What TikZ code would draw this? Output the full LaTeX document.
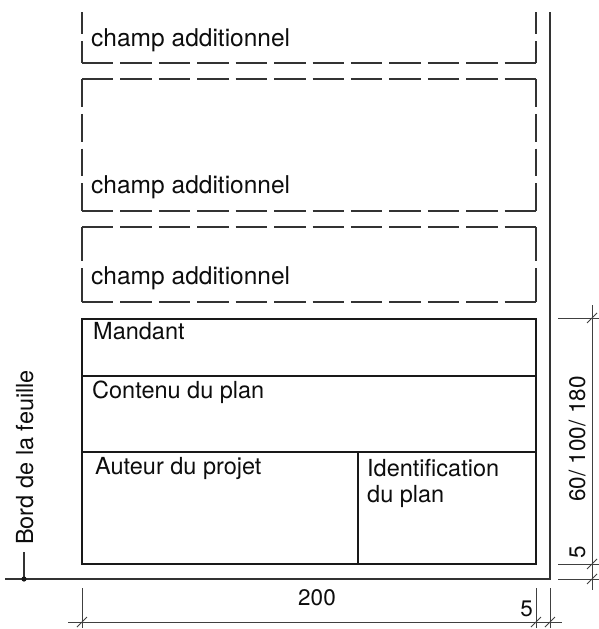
\documentclass[tikz,border=0pt]{standalone}
\usepackage{fontspec}
\setmainfont{TeX Gyre Heros}

% one side of a dashed field, with whole dashes at both corners
\newcommand\dashedside[4]{%
  \pgfmathsetmacro\sidelen{veclen(#3-#1,#4-#2)}%
  \pgfmathsetmacro\sidecount{max(1,round((\sidelen+7)/37))}%
  \pgfmathsetmacro\sidedash{(\sidelen-(\sidecount-1)*7)/\sidecount}%
  \draw[dsh, dash pattern=on \sidedash pt off 7pt] (#1,#2) -- (#3,#4);}

% oblique tick mark of a dimension line
\newcommand\archtick[2]{%
  \draw[dimline, line width=1pt] (#1-5,#2+5) -- (#1+5,#2-5);}

\begin{document}
\begin{tikzpicture}[x=1pt,y=-1pt,
  lbl/.style={font=\fontsize{23.5}{28}\selectfont, inner sep=0pt, text=black!95},
  fieldlbl/.style={lbl, font=\fontsize{24.5}{29}\selectfont},
  dimlbl/.style={lbl, font=\fontsize{22.5}{27}\selectfont},
  frame/.style={line width=2.3pt, black!90, line cap=rect},
  inner/.style={line width=1.8pt, black!90},
  thin/.style={line width=1.2pt, black!80},
  dimline/.style={line width=0.8pt, black!75},
  dsh/.style={line width=1.3pt, black!80}]
\useasboundingbox (0,0) rectangle (599,629);

% sheet edge
\coordinate (edgetop) at (550,12);
\coordinate (edgecorner) at (550,579);
\coordinate (edgeleft) at (5,579);
\draw[thin] (edgetop) -- (edgecorner) -- (edgeleft);

% additional fields (dashed)
\dashedside{82}{12}{82}{63}
\dashedside{536}{12}{536}{63}
\dashedside{82}{63}{536}{63}

\dashedside{82}{79}{536}{79}
\dashedside{82}{79}{82}{211}
\dashedside{536}{79}{536}{211}
\dashedside{82}{211}{536}{211}

\dashedside{82}{227}{536}{227}
\dashedside{82}{227}{82}{302}
\dashedside{536}{227}{536}{302}
\dashedside{82}{302}{536}{302}

\node[fieldlbl, anchor=base west] (champA) at (91,46) {champ additionnel};
\node[fieldlbl, anchor=base west] (champB) at (91,193) {champ additionnel};
\node[fieldlbl, anchor=base west] (champC) at (91,284) {champ additionnel};

% title block
\draw[frame] (82,319) rectangle (536,564);
\draw[inner] (82,376) -- (536,376);
\draw[inner] (82,452) -- (536,452);
\draw[inner] (358,452) -- (358,564);

\node[lbl, anchor=base west] (mandant) at (93,339) {Mandant};
\node[lbl, anchor=base west] (contenu) at (92,398) {Contenu du plan};
\node[lbl, anchor=base west] (auteur) at (95,474) {Auteur du projet};
\node[lbl, anchor=base west] (ident) at (367,476) {Identification};
\node[lbl, anchor=base west] (duplan) at (367,502) {du plan};

% sheet edge label
\node[lbl, rotate=90, anchor=base west] (bord) at (33,545) {Bord de la feuille};
\coordinate (bordfoot) at (24,579);
\draw[thin] (24,552) -- (bordfoot);
\fill[black!90] (bordfoot) circle (2.6);

% right-hand dimensions
\draw[dimline] (558,318) -- (599,318);
\draw[dimline] (558,564) -- (599,564);
\draw[dimline] (558,579) -- (599,579);
\draw[dimline] (592,305) -- (592,590);
\archtick{592}{318}
\archtick{592}{564}
\archtick{592}{579}
\node[dimlbl, rotate=90, anchor=base] (hdim) at (585,439) {60/ 100/ 180};
\node[dimlbl, rotate=90, anchor=base west] (hmarg) at (585,559) {5};

% bottom dimensions
\draw[dimline] (82,588) -- (82,628);
\draw[dimline] (536,588) -- (536,628);
\draw[dimline] (550,588) -- (550,628);
\draw[dimline] (68,622) -- (562,622);
\archtick{82}{622}
\archtick{536}{622}
\archtick{550}{622}
\node[dimlbl, anchor=base] (wdim) at (317,605) {200};
\node[dimlbl, anchor=base east] (wmarg) at (533,616) {5};
\end{tikzpicture}
\end{document}
